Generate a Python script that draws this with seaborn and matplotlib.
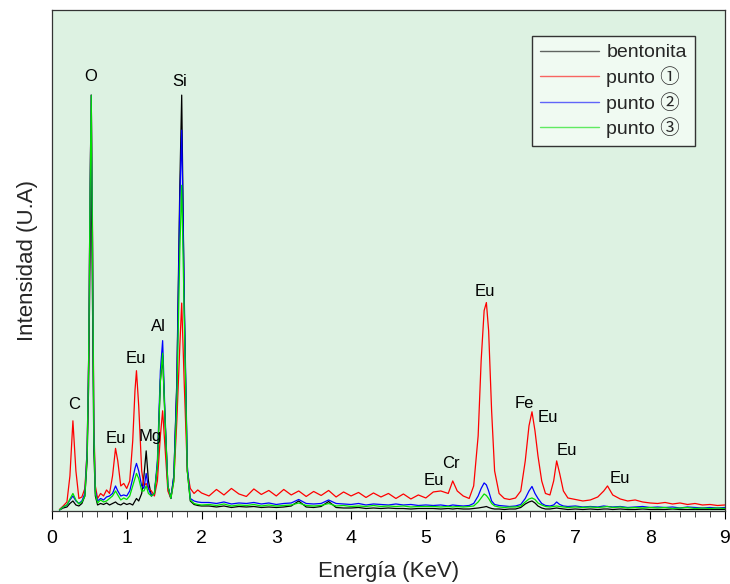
import numpy as np
import pandas as pd
import matplotlib
matplotlib.use("Agg")
import matplotlib.pyplot as plt
import seaborn as sns

# ---------------- data ----------------
energy_a = [0.10, 0.15, 0.20, 0.24, 0.28, 0.32, 0.36, 0.40, 0.44, 0.47, 0.49, 0.51, 0.525, 0.54,
            0.56, 0.58, 0.61, 0.65, 0.69, 0.73, 0.77, 0.81, 0.85, 0.88, 0.92, 0.96, 1.00, 1.04,
            1.08, 1.11, 1.13, 1.16, 1.20, 1.23, 1.26, 1.29, 1.33, 1.37, 1.41, 1.45, 1.48, 1.51,
            1.55, 1.59, 1.63, 1.67, 1.71, 1.735, 1.77, 1.81, 1.85, 1.90, 1.95, 2.00]
energy_b = [2.1, 2.2, 2.3, 2.4, 2.5, 2.6, 2.7, 2.8, 2.9, 3.0, 3.1, 3.2, 3.3, 3.4, 3.5,
            3.6, 3.7, 3.8, 3.9, 4.0, 4.1, 4.2, 4.3, 4.4, 4.5, 4.6, 4.7, 4.8, 4.9, 5.0]
energy_c = [5.1, 5.2, 5.3, 5.36, 5.42, 5.5, 5.58, 5.64, 5.7, 5.74, 5.78, 5.81, 5.84, 5.88,
            5.92, 5.98, 6.05, 6.12, 6.2, 6.27, 6.33, 6.38, 6.42, 6.46, 6.5, 6.55, 6.6, 6.66,
            6.71, 6.75, 6.79, 6.84, 6.9, 7.0, 7.1, 7.2, 7.3, 7.38, 7.43, 7.5, 7.6, 7.7, 7.8,
            7.9, 8.0, 8.1, 8.2, 8.3, 8.4, 8.5, 8.6, 8.7, 8.8, 8.9, 9.0]

bentonita_a = [0.2, 0.6, 0.8, 1.5, 2.0, 1.2, 1.0, 1.5, 3.0, 10, 25, 52, 68, 45,
               12, 3, 1.2, 1.5, 1.3, 1.6, 1.2, 1.5, 1.8, 1.4, 1.2, 1.6, 1.3, 1.5,
               1.2, 2.0, 2.5, 2.0, 3.5, 7, 12, 6, 3.0, 3.5, 9, 26, 31, 19,
               5, 2.5, 7, 26, 65, 83, 40, 8, 2.0, 1.3, 1.1, 1.0]
bentonita_b = [1.0, 0.8, 1.0, 0.7, 0.9, 0.8, 0.9, 0.7, 0.8, 0.7, 0.8, 1.0, 2.0, 0.8, 0.7,
               0.9, 1.9, 0.7, 0.6, 0.6, 0.7, 0.5, 0.6, 0.5, 0.6, 0.5, 0.5, 0.4, 0.5, 0.5]
bentonita_c = [0.5, 0.4, 0.5, 0.4, 0.5, 0.4, 0.4, 0.5, 0.6, 0.7, 0.8, 0.9, 0.7, 0.5,
               0.4, 0.4, 0.3, 0.4, 0.4, 0.7, 1.4, 1.8, 2.0, 1.6, 1.0, 0.6, 0.4, 0.4,
               0.5, 0.6, 0.5, 0.4, 0.3, 0.4, 0.3, 0.4, 0.3, 0.4, 0.4, 0.3, 0.4, 0.3, 0.3,
               0.4, 0.3, 0.3, 0.3, 0.4, 0.3, 0.3, 0.3, 0.3, 0.3, 0.3, 0.3]

punto1_a = [0.3, 1.0, 1.8, 7, 18, 8, 2.5, 2.8, 4.5, 12, 30, 65, 83, 60,
            18, 5, 2.5, 3.5, 3.0, 4.2, 3.5, 7, 12.5, 10, 5, 5.5, 4.5, 6,
            14, 24, 28, 21, 8, 5, 5.5, 4.5, 4, 3, 6, 15, 20, 13,
            4, 2.5, 6, 18, 33, 41.5, 25, 8, 4.5, 3.5, 4.2, 3.6]
punto1_b = [3.0, 4.3, 3.2, 4.5, 3.4, 2.9, 4.4, 3.3, 4.1, 3.0, 4.3, 3.2, 4.0, 2.9, 3.9,
            3.1, 4.1, 2.8, 3.8, 3.0, 3.7, 2.7, 3.6, 2.8, 3.5, 2.5, 3.4, 2.4, 3.2, 2.6]
punto1_c = [3.8, 4.0, 3.5, 6.0, 4.0, 3.0, 2.5, 5.0, 15, 30, 40, 41.6, 36, 20,
            8, 3.5, 2.5, 2.3, 2.6, 4.0, 10, 17, 19.8, 16, 11, 6, 3.5, 3.2,
            6, 10, 7.5, 4, 2.6, 2.3, 2.0, 2.2, 2.8, 4.0, 5.0, 3.2, 2.4, 2.0, 2.2,
            1.8, 1.6, 1.5, 1.7, 1.4, 1.6, 1.3, 1.5, 1.2, 1.3, 1.1, 1.2]

punto2_a = [0.2, 0.8, 1.2, 2.2, 3.0, 2.0, 1.5, 2.0, 3.5, 12, 30, 65, 83, 58,
            16, 4, 2.0, 2.5, 2.2, 2.8, 3.0, 3.5, 5.0, 4.0, 3.0, 3.2, 3.0, 4.0,
            6.5, 8.5, 9.5, 8.0, 5.0, 4.5, 7.5, 4.5, 3.0, 3.5, 10, 28, 34, 20,
            5, 2.5, 7, 25, 62, 76, 42, 9, 2.5, 2.0, 1.8, 1.7]
punto2_b = [1.7, 1.5, 1.8, 1.4, 1.6, 1.5, 1.7, 1.4, 1.6, 1.3, 1.5, 1.6, 2.3, 1.5, 1.4,
            1.5, 2.2, 1.5, 1.4, 1.3, 1.5, 1.2, 1.4, 1.3, 1.2, 1.4, 1.2, 1.3, 1.1, 1.2]
punto2_c = [1.1, 1.2, 1.0, 1.2, 1.1, 1.0, 1.1, 1.5, 3.0, 4.5, 5.6, 5.2, 4.0, 2.0,
            1.3, 1.1, 1.0, 0.9, 1.0, 1.3, 2.5, 4.0, 4.9, 3.5, 2.5, 1.5, 1.1, 1.0,
            1.2, 1.8, 1.3, 1.0, 0.9, 1.0, 0.8, 0.9, 0.8, 1.0, 0.9, 0.8, 0.9, 0.7, 0.8,
            0.9, 0.7, 0.8, 0.7, 0.8, 0.6, 0.8, 0.7, 0.6, 0.7, 0.6, 0.7]

punto3_a = [0.2, 0.8, 1.2, 2.4, 3.5, 2.2, 1.4, 1.8, 3.0, 11, 29, 64, 83, 57,
            15, 3.5, 1.6, 2.2, 1.8, 2.0, 2.5, 3.0, 4.0, 3.2, 2.2, 2.6, 2.3, 3.0,
            5.0, 6.5, 7.5, 6.5, 4.0, 4.0, 5.0, 3.5, 3.0, 3.5, 9, 26, 31.5, 19,
            5, 2.5, 6, 22, 52, 65, 38, 8, 2.2, 1.5, 1.3, 1.2]
punto3_b = [1.3, 1.1, 1.4, 1.0, 1.2, 1.1, 1.3, 1.0, 1.2, 1.0, 1.1, 1.2, 1.6, 1.1, 1.0,
            1.1, 1.5, 1.0, 1.1, 0.9, 1.0, 0.9, 1.1, 0.9, 1.0, 0.9, 1.0, 0.8, 0.9, 0.9]
punto3_c = [0.9, 0.8, 0.9, 0.8, 0.9, 0.8, 0.9, 1.0, 1.8, 2.6, 3.4, 3.1, 2.5, 1.5,
            1.0, 0.8, 0.7, 0.8, 0.8, 1.0, 1.8, 2.4, 2.6, 2.3, 1.6, 1.2, 0.9, 0.8,
            0.9, 1.0, 0.9, 0.8, 0.7, 0.8, 0.7, 0.8, 0.7, 0.8, 0.9, 0.7, 0.8, 0.6, 0.7,
            0.6, 0.7, 0.6, 0.7, 0.5, 0.6, 0.7, 0.5, 0.6, 0.5, 0.6, 0.5]

series_names = ["bentonita", "punto \u2460", "punto \u2461", "punto \u2462"]
series_colors = ["#000000", "#ff0000", "#0000ff", "#00e000"]

peak_labels = ["O", "Si", "Al", "Eu", "C", "Eu", "Mg", "Eu", "Fe", "Eu", "Eu", "Cr", "Eu", "Eu"]
peak_label_x = [0.52, 1.71, 1.42, 1.12, 0.29, 0.855, 1.31, 5.79, 6.32, 6.63, 6.88, 5.33, 5.11, 7.6]
peak_label_y = [86.8, 85.8, 36.9, 30.5, 21.2, 14.4, 14.8, 43.9, 21.4, 18.6, 12.0, 9.4, 6.0, 6.4]

# ---------------- build long-form table ----------------
energy = energy_a + energy_b + energy_c
values = [bentonita_a + bentonita_b + bentonita_c,
          punto1_a + punto1_b + punto1_c,
          punto2_a + punto2_b + punto2_c,
          punto3_a + punto3_b + punto3_c]
for v in values:
    assert len(v) == len(energy), (len(v), len(energy))

frames = []
for name, v in zip(series_names, values):
    frames.append(pd.DataFrame({"Energia": energy, "Intensidad": v, "serie": name}))
df = pd.concat(frames, ignore_index=True)

# ---------------- plot ----------------
sns.set_style("ticks")
plt.rcParams["font.family"] = ["Liberation Sans", "Noto Sans CJK JP", "DejaVu Sans"]

fig = plt.figure(figsize=(7.30, 5.84), dpi=100)
ax = fig.add_axes([0.0712, 0.125, 0.9218, 0.858])
ax.set_facecolor("#ddf2e2")

sns.lineplot(data=df, x="Energia", y="Intensidad", hue="serie",
             hue_order=series_names, palette=series_colors,
             estimator=None, sort=False, linewidth=0.9, ax=ax)

ax.set_xlim(0, 9)
ax.set_ylim(0, 100)
ax.set_xticks(range(0, 10))
ax.set_xticks(np.arange(0, 9.01, 0.2), minor=True)
ax.set_yticks([])
ax.tick_params(axis="x", which="major", direction="out", length=6, width=0.8,
               labelsize=14, pad=8, colors="black")
ax.tick_params(axis="x", which="minor", direction="out", length=4, width=0.6)
for s in ax.spines.values():
    s.set_color("#333333")
    s.set_linewidth(0.9)

ax.set_xlabel("Energía (KeV)", fontsize=16, labelpad=10)
ax.set_ylabel("Intensidad (U.A)", fontsize=16, labelpad=10)

for t, x, y in zip(peak_labels, peak_label_x, peak_label_y):
    ax.text(x, y, t, fontsize=12, ha="center", va="center", color="black")

leg = ax.legend(loc="upper right", bbox_to_anchor=(0.955, 0.948), fontsize=14,
                frameon=True, fancybox=False, handlelength=3.0, handletextpad=0.4,
                labelspacing=0.25, borderpad=0.4, borderaxespad=0)
leg.get_frame().set_edgecolor("#333333")
leg.get_frame().set_facecolor("#f0faf2")
leg.get_frame().set_alpha(1)
for line in leg.get_lines():
    line.set_linewidth(1.0)
    line.set_alpha(0.6)

fig.savefig("out.png", dpi=100)
